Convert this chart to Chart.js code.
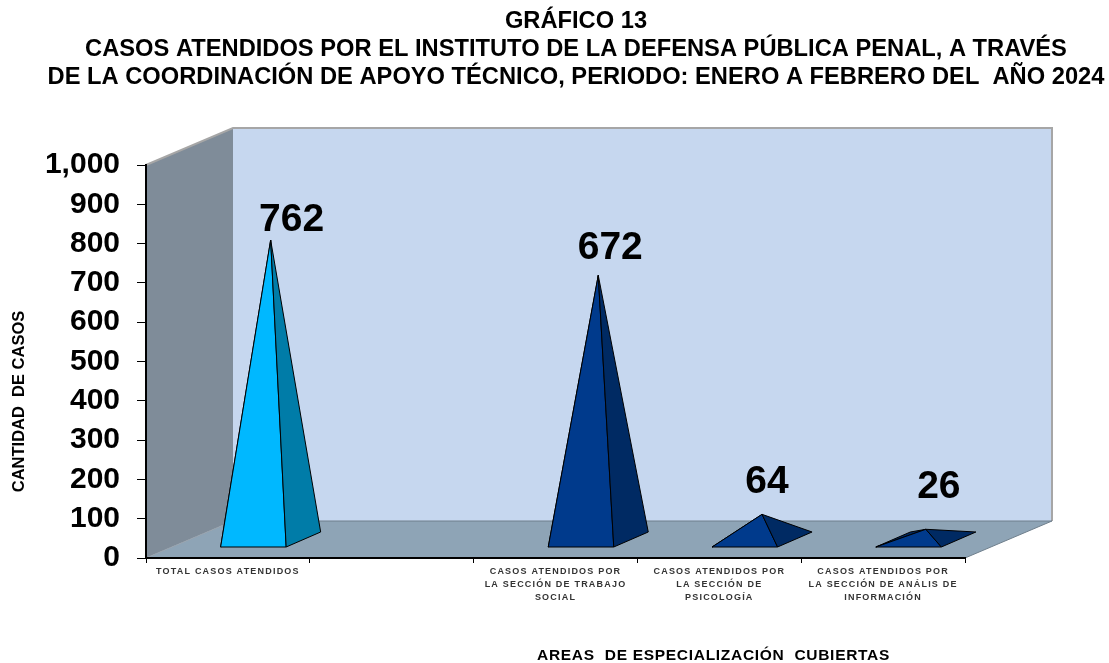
<!DOCTYPE html>
<html><head><meta charset="utf-8">
<style>html,body{margin:0;padding:0;background:#fff}#w{position:relative;width:1109px;height:663px}</style>
<script src="https://cdn.jsdelivr.net/npm/chart.js@4"></script>
</head><body><div id="w"><canvas id="c" width="1109" height="663"></canvas></div>
<script>
const titleLines = ['GRÁFICO 13','CASOS ATENDIDOS POR EL INSTITUTO DE LA DEFENSA PÚBLICA PENAL, A TRAVÉS','DE LA COORDINACIÓN DE APOYO TÉCNICO, PERIODO: ENERO A FEBRERO DEL  AÑO 2024'];
const categories = [['TOTAL CASOS ATENDIDOS'],'',['CASOS ATENDIDOS POR','LA SECCIÓN DE TRABAJO','SOCIAL'],['CASOS ATENDIDOS POR','LA SECCIÓN DE','PSICOLOGÍA'],['CASOS ATENDIDOS POR','LA SECCIÓN DE ANÁLIS DE','INFORMACIÓN']];
const values = [762,null,672,64,26];
const frontColors = ['#00B8FF',null,'#003A8C','#003A8C','#003A8C'];
const sideColors = ['#007CA8',null,'#002A63','#002A63','#002A63'];
const yTitle = 'CANTIDAD  DE CASOS';
const xTitle = 'AREAS  DE ESPECIALIZACIÓN  CUBIERTAS';

const WALL = {dx:87, dy:37}, BASE = {dx:34.5, dy:15, fx:25.5, fy:11};
const LABEL_SHIFT = [[21,-20],null,[12,-27],[5,-32],[13,-42]];
const FONT = '"Liberation Sans", Arial, sans-serif';

function poly(ctx, pts, fill, stroke, w){
  ctx.beginPath();
  pts.forEach((p,i)=> i?ctx.lineTo(p[0],p[1]):ctx.moveTo(p[0],p[1]));
  ctx.closePath();
  if(fill){ctx.fillStyle=fill;ctx.fill();}
  if(stroke){ctx.strokeStyle=stroke;ctx.lineWidth=w||1;ctx.lineJoin='round';ctx.stroke();}
}
const scene = {
  id:'scene',
  afterLayout(chart){
    if(chart.titleBlock && !chart.$shifted){
      chart.titleBlock.left=0; chart.titleBlock.right=1152; chart.$shifted=true;
    }
    const x=chart.scales.x,y=chart.scales.y;
    if(!x.$wrapped){
      x.$wrapped=true;
      const dl=x.drawLabels;
      x.drawLabels=function(a){const c=this.ctx;c.save();c.letterSpacing='1.2px';dl.call(this,a);c.restore();c.letterSpacing='0px';};
      const dt=x.drawTitle;
      x.drawTitle=function(){const c=this.ctx;c.save();c.translate(158,2);c.letterSpacing='0.7px';dt.call(this);c.restore();c.letterSpacing='0px';};
      const dy=y.drawTitle;
      y.drawTitle=function(){const c=this.ctx;c.save();c.translate(0,40);dy.call(this);c.restore();};
    }
  },
  beforeDraw(chart){
    const {ctx,chartArea:a}=chart;
    const L=a.left,R=a.right,T=a.top,B=a.bottom,dx=WALL.dx,dy=WALL.dy;
    ctx.save();
    poly(ctx,[[L+dx,T-dy],[R+dx,T-dy],[R+dx,B-dy],[L+dx,B-dy]],'#C6D7EF');
    poly(ctx,[[L,B],[L,T],[L+dx,T-dy],[L+dx,B-dy]],'#7F8C99');
    poly(ctx,[[L,B],[R,B],[R+dx,B-dy],[L+dx,B-dy]],'#8EA4B6');
    ctx.strokeStyle='#A6A6A6';ctx.lineWidth=2;
    ctx.beginPath();ctx.moveTo(L,T);ctx.lineTo(L+dx,T-dy);ctx.lineTo(R+dx,T-dy);ctx.lineTo(R+dx,B-dy);ctx.stroke();
    ctx.strokeStyle='#6F7F8C';ctx.lineWidth=1;
    ctx.beginPath();ctx.moveTo(L+dx,B-dy);ctx.lineTo(R+dx,B-dy);ctx.lineTo(R,B);ctx.stroke();
    ctx.strokeStyle='#96A1AC';ctx.beginPath();ctx.moveTo(L,B);ctx.lineTo(L+dx,B-dy);ctx.stroke();
    ctx.restore();
  },
  beforeDatasetDraw(chart,args){
    const {ctx}=chart, meta=args.meta, yS=chart.scales.y;
    const zero=yS.getPixelForValue(0);
    ctx.save();
    meta.data.forEach((bar,i)=>{
      if(values[i]==null) return;
      const h=zero-bar.y, w=bar.width;
      const cx=bar.x+BASE.fx, fy=zero-BASE.fy;
      const fl=[cx-w/2,fy], fr=[cx+w/2,fy], br=[fr[0]+BASE.dx,fy-BASE.dy], bl=[fl[0]+BASE.dx,fy-BASE.dy];
      const apex=[(fl[0]+br[0])/2,(fl[1]+br[1])/2-h];
      poly(ctx,[fl,bl,apex],sideColors[i],'#000',1);
      poly(ctx,[fl,fr,apex],frontColors[i],'#000',1);
      poly(ctx,[fr,br,apex],sideColors[i],'#000',1);
      const s=LABEL_SHIFT[i];
      ctx.fillStyle='#000';ctx.font='bold 39px '+FONT;ctx.textAlign='center';ctx.textBaseline='middle';
      ctx.fillText(String(values[i]),apex[0]+s[0],apex[1]+s[1]);
    });
    ctx.restore();
    return false;
  }
};
new Chart(document.getElementById('c'),{
  type:'bar',
  data:{labels:categories,datasets:[{label:'Casos',data:values,backgroundColor:frontColors,barPercentage:0.5,categoryPercentage:0.8}]},
  plugins:[scene],
  options:{
    responsive:false,animation:false,
    layout:{padding:{top:0,left:0,right:144,bottom:0}},
    plugins:{
      legend:{display:false},tooltip:{enabled:false},
      title:{display:true,text:titleLines,color:'#000',font:{family:FONT,size:23.7,weight:'bold',lineHeight:28/23.7},padding:{top:7,bottom:74}}
    },
    scales:{
      x:{
        afterFit(s){s.height=105;},
        offset:true,
        grid:{display:true,drawOnChartArea:false,offset:true,tickLength:5,color:'#000',tickColor:'#000'},
        border:{color:'#000',width:2},
        ticks:{autoSkip:false,maxRotation:0,minRotation:0,padding:2,color:'#333',font:{family:FONT,size:9,weight:'bold',lineHeight:1.45}},
        title:{display:true,text:xTitle,color:'#000',font:{family:FONT,size:15.5,weight:'bold'},padding:{top:32,bottom:0}}
      },
      y:{
        afterFit(s){s.width=146;},
        min:0,max:1000,
        grid:{display:true,drawOnChartArea:false,tickLength:9,color:'#000',tickColor:'#000'},
        border:{color:'#000',width:2},
        ticks:{stepSize:100,padding:17,color:'#000',font:{family:FONT,size:30,weight:'bold'},callback:v=>v.toLocaleString('en-US')},
        title:{display:true,text:yTitle,color:'#000',font:{family:FONT,size:16.5,weight:'bold'},padding:{top:10,bottom:0}}
      }
    }
  }
});
</script></body></html>
